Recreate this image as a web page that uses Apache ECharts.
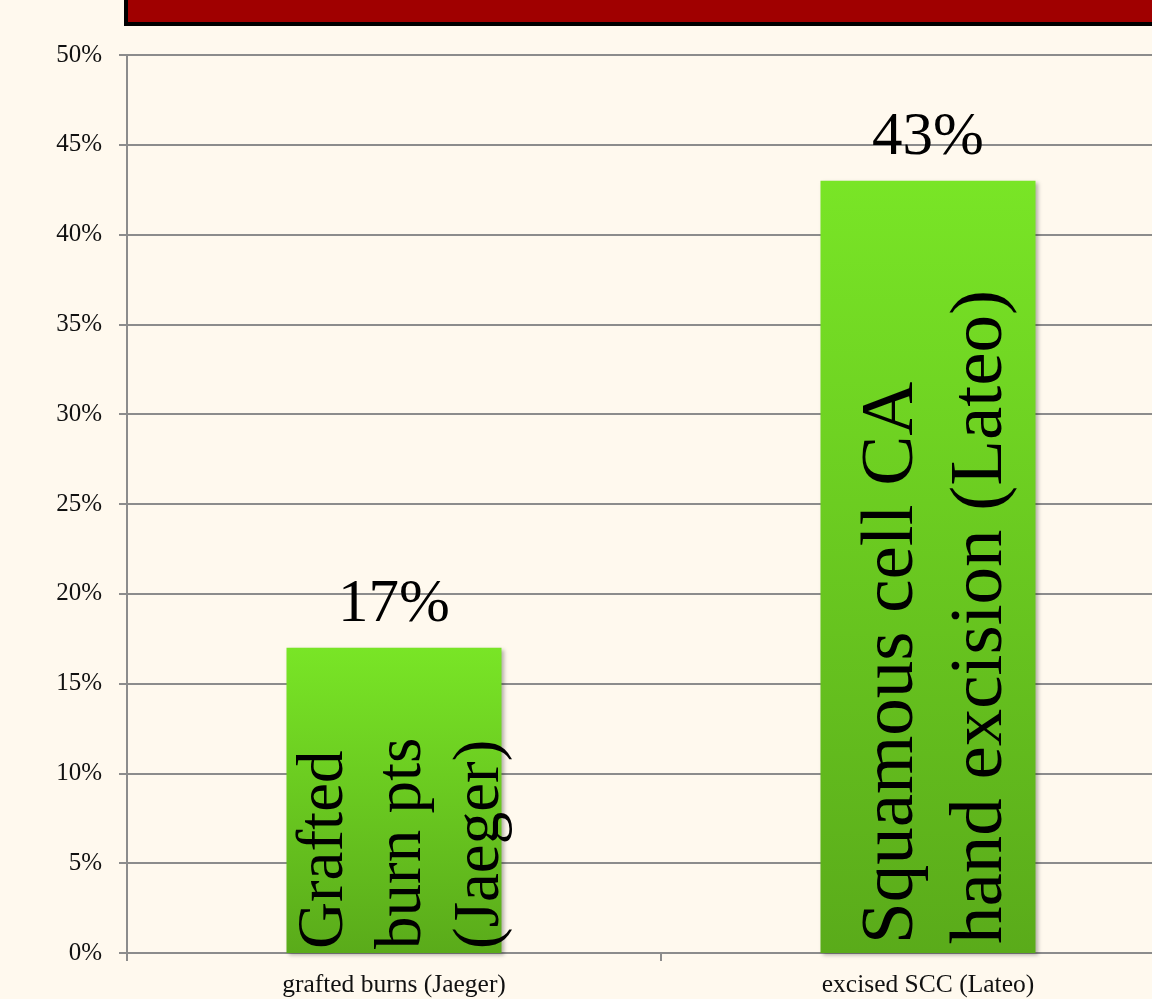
<!DOCTYPE html>
<html>
<head>
<meta charset="utf-8">
<style>
html,body{margin:0;padding:0;background:#FFF9EE;overflow:hidden;width:1152px;height:999px;}
#chart{width:1200px;height:999px;}
</style>
<script src="https://cdn.jsdelivr.net/npm/echarts@6/dist/echarts.min.js"></script>
</head>
<body>
<div id="chart"></div>
<script>
const categories = ['grafted burns (Jaeger)', 'excised SCC (Lateo)'];
const values = [17, 43];
const barTexts = ['Grafted\nburn pts\n(Jaeger)', 'Squamous cell CA\nhand excision (Lateo)'];
const barTextSizes = [65, 75];
const barTextLineHeights = [78, 89];
const barTextDistances = [4, 9];

const serif = '"Liberation Serif", "DejaVu Serif", serif';
const chart = echarts.init(document.getElementById('chart'));

const gradient = new echarts.graphic.LinearGradient(0, 0, 0, 1, [
  { offset: 0, color: '#79E526' },
  { offset: 1, color: '#5AAB1A' }
]);

chart.setOption({
  backgroundColor: '#FFF9EE',
  animation: false,
  grid: { left: 127, width: 1068, top: 55, height: 898, containLabel: false },
  xAxis: {
    type: 'category',
    data: categories,
    axisLine: { show: true, lineStyle: { color: '#8C8C8C', width: 2 } },
    axisTick: { show: true, alignWithLabel: false, length: 8, lineStyle: { color: '#8C8C8C', width: 2 } },
    axisLabel: { fontFamily: serif, fontSize: 25.5, color: '#111', margin: 19 },
    splitLine: { show: false }
  },
  yAxis: {
    type: 'value',
    min: 0, max: 50, interval: 5,
    axisLine: { show: true, lineStyle: { color: '#8C8C8C', width: 2 } },
    axisTick: { show: true, length: 8, lineStyle: { color: '#8C8C8C', width: 2 } },
    axisLabel: { formatter: '{value}%', fontFamily: serif, fontSize: 25, color: '#111', margin: 25 },
    splitLine: { show: true, lineStyle: { color: '#8C8C8C', width: 2 } }
  },
  series: [
    {
      type: 'bar',
      barWidth: 215,
      barGap: '-100%',
      z: 2,
      itemStyle: {
        color: gradient,
        shadowBlur: 4, shadowOffsetX: 2, shadowOffsetY: 2, shadowColor: 'rgba(0,0,0,0.3)'
      },
      data: values.map((v, i) => ({
        value: v,
        label: {
          show: true,
          position: 'insideBottom',
          distance: barTextDistances[i],
          rotate: 90,
          align: 'left',
          verticalAlign: 'middle',
          offset: [0, 9],
          formatter: barTexts[i],
          fontFamily: serif,
          fontSize: barTextSizes[i],
          lineHeight: barTextLineHeights[i],
          color: '#000'
        }
      }))
    },
    {
      type: 'bar',
      barWidth: 215,
      barGap: '-100%',
      z: 3,
      itemStyle: { color: 'rgba(0,0,0,0)' },
      label: {
        show: true,
        position: 'top',
        distance: 12,
        formatter: '{c}%',
        fontFamily: serif,
        fontSize: 61,
        color: '#000'
      },
      data: values
    }
  ],
  graphic: [
    {
      type: 'rect',
      z: 100,
      shape: { x: 126, y: -10, width: 1100, height: 34 },
      style: { fill: '#A00000', stroke: '#000', lineWidth: 4 }
    }
  ]
});
</script>
</body>
</html>
